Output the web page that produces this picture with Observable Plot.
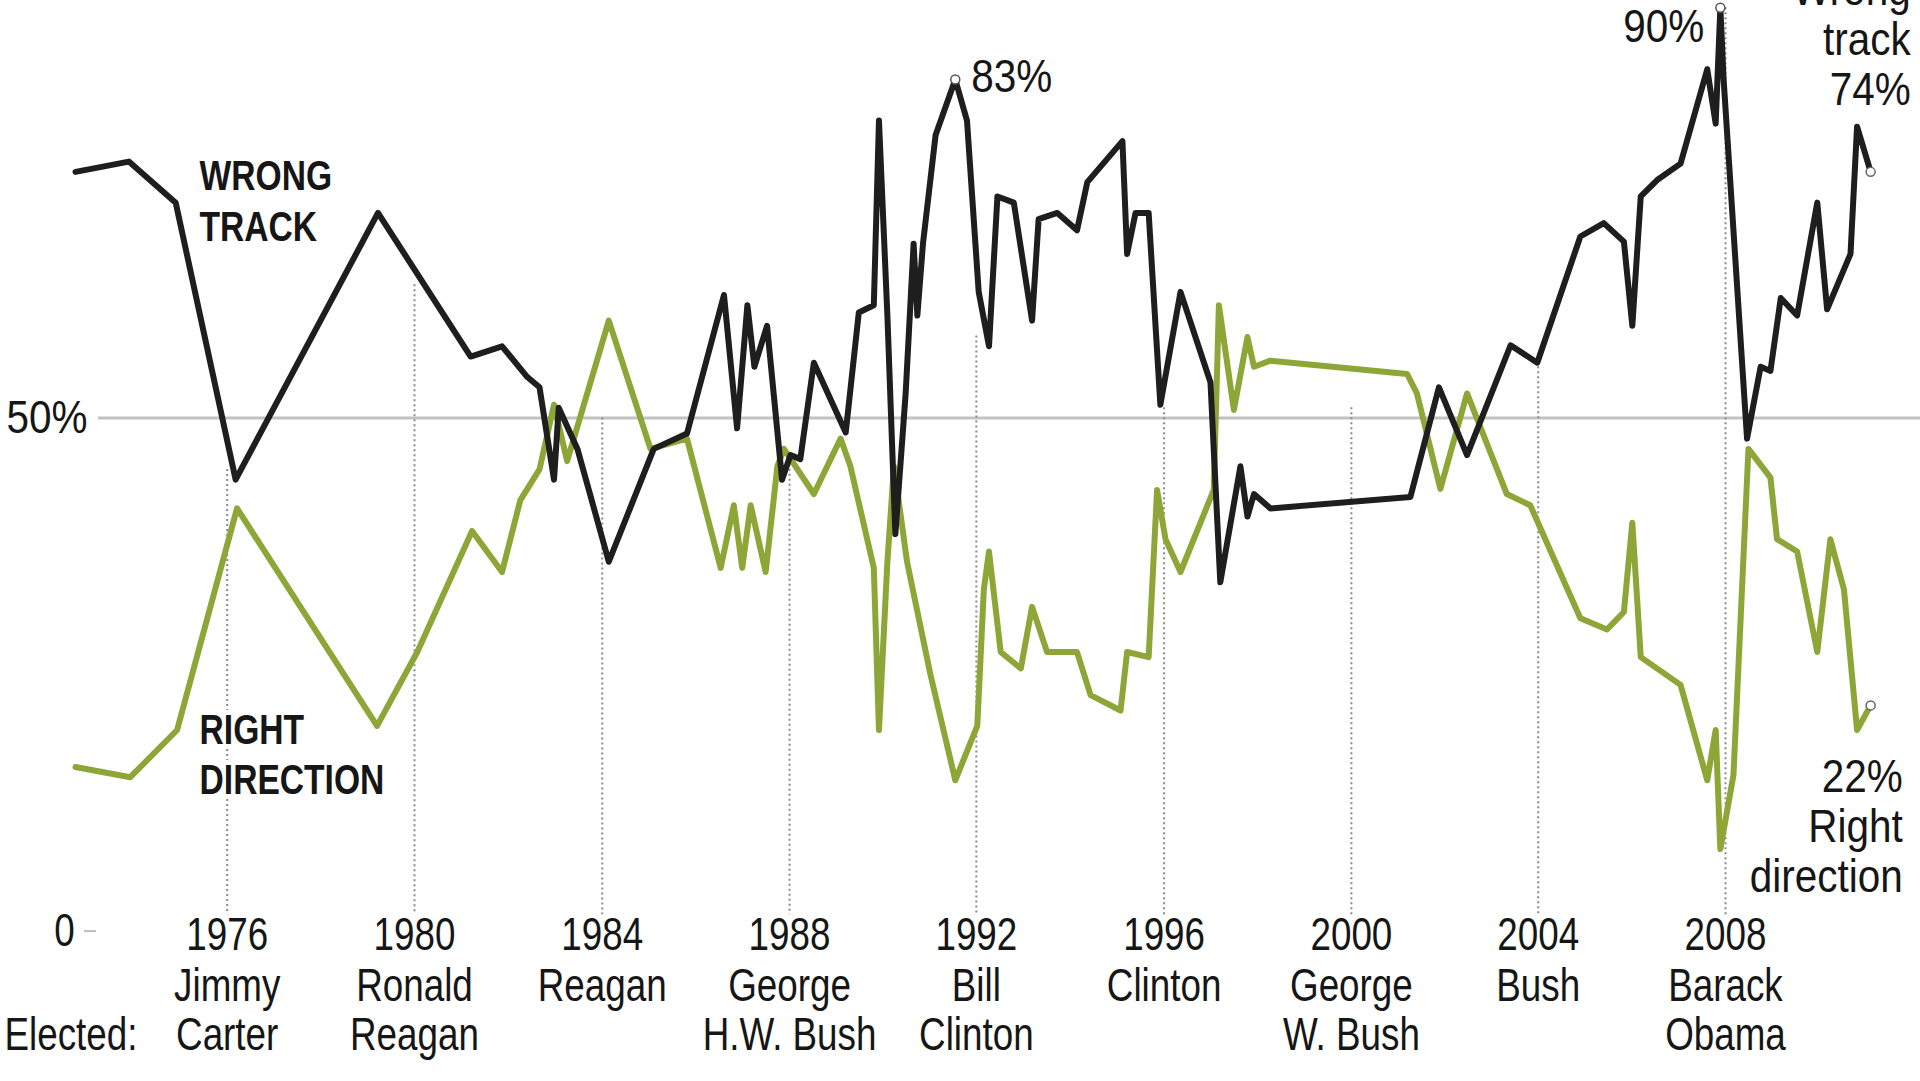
<!DOCTYPE html>
<html>
<head>
<meta charset="utf-8">
<script src="https://cdn.jsdelivr.net/npm/d3@7"></script>
<script src="https://cdn.jsdelivr.net/npm/@observablehq/plot@0.6"></script>
<style>
  html, body { margin: 0; padding: 0; background: #fff; overflow: hidden; }
  #chart svg { display: block; }
</style>
</head>
<body>
<div id="chart"></div>
<script>
// Poll: Is the country headed in the right direction or on the wrong track? (percent)
// Time is given in decimal years.
const wrongYears = [1973.60, 1974.74, 1975.74, 1977.02, 1980.06, 1982.04, 1982.71, 1983.25, 1983.51, 1983.82,
  1983.92, 1984.32, 1984.99, 1985.95, 1986.66, 1987.45, 1987.73, 1987.95, 1988.10, 1988.37,
  1988.69, 1988.87, 1989.08, 1989.37, 1990.05, 1990.33, 1990.65, 1990.76, 1990.94, 1991.11,
  1991.33, 1991.50, 1991.58, 1991.70, 1991.97, 1992.39, 1992.64, 1992.89, 1993.11, 1993.29,
  1993.64, 1994.03, 1994.17, 1994.57, 1994.99, 1995.21, 1995.96, 1996.06, 1996.24, 1996.52,
  1996.77, 1997.20, 1997.84, 1998.05, 1998.48, 1998.63, 1998.77, 1999.12, 2002.11, 2002.72,
  2003.32, 2004.25, 2004.82, 2005.74, 2006.24, 2006.67, 2006.85, 2007.03, 2007.38, 2007.88,
  2008.45, 2008.63, 2008.73, 2008.80, 2009.30, 2009.59, 2009.80, 2010.02, 2010.37, 2010.80,
  2011.01, 2011.51, 2011.65, 2011.94];
const wrongValues = [74, 75, 71, 44, 70, 56, 57, 54, 53, 44,
  51, 47, 36, 47, 48.5, 62, 49, 61, 55, 59,
  44, 46.4, 46, 55.4, 48.6, 60.3, 61, 79, 60, 38.7,
  52.4, 67, 60, 67, 77.6, 83, 79, 62.3, 57, 71.6,
  71, 59.5, 69.4, 70, 68.3, 73, 77, 66, 70, 70,
  51.3, 62.3, 53.5, 34, 45.3, 40.4, 42.6, 41.2, 42.3, 53,
  46.4, 57.1, 55.4, 67.7, 69, 67.2, 59, 71.6, 73.2, 74.8,
  84, 78.7, 90, 83, 48, 55, 54.6, 61.7, 60, 71,
  60.6, 66, 78.4, 74];

const rightYears = [1973.60, 1974.77, 1975.77, 1977.05, 1980.04, 1980.90, 1982.07, 1982.71, 1983.10, 1983.51,
  1983.82, 1984.10, 1984.99, 1985.88, 1986.66, 1987.38, 1987.66, 1987.84, 1988.02, 1988.34,
  1988.59, 1988.73, 1989.37, 1989.94, 1990.15, 1990.65, 1990.76, 1990.94, 1991.08, 1991.36,
  1991.86, 1992.39, 1992.86, 1993.00, 1993.11, 1993.36, 1993.79, 1994.03, 1994.35, 1994.99,
  1995.28, 1995.92, 1996.06, 1996.52, 1996.70, 1996.88, 1997.20, 1997.91, 1998.02, 1998.34,
  1998.63, 1998.77, 1999.12, 2002.04, 2002.25, 2002.75, 2003.32, 2004.17, 2004.67, 2005.74,
  2006.31, 2006.67, 2006.85, 2007.03, 2007.88, 2008.45, 2008.63, 2008.73, 2009.01, 2009.33,
  2009.80, 2009.94, 2010.37, 2010.80, 2011.08, 2011.37, 2011.65, 2011.94];
const rightValues = [16, 15, 19.6, 41.2, 20, 27.2, 39, 35, 42, 45,
  51.3, 45.8, 59.5, 47, 48, 35.4, 41.5, 35.4, 41.5, 35,
  45.3, 47, 42.6, 48, 45.3, 35.4, 19.6, 36, 45.3, 36,
  25, 14.7, 20, 33.3, 37, 27.2, 25.6, 31.6, 27.2, 27.2,
  23, 21.5, 27.2, 26.7, 43, 38.2, 35, 43, 61, 50.8,
  57.9, 55, 55.6, 54.3, 52.4, 43.1, 52.4, 42.6, 41.5, 30.5,
  29.4, 31.1, 39.8, 26.7, 24, 14.7, 19.6, 8, 15.2, 47,
  44.2, 38.2, 37, 27.2, 38.2, 33.3, 19.6, 22];

// Presidential elections
const electionYears = [1976.84, 1980.84, 1984.85, 1988.85, 1992.84, 1996.85, 2000.85, 2004.84, 2008.84];
const electionLabels = ["1976", "1980", "1984", "1988", "1992", "1996", "2000", "2004", "2008"];
const electedFirst = ["Jimmy", "Ronald", "Reagan", "George", "Bill", "Clinton", "George", "Bush", "Barack"];
const electedSecond = ["Carter", "Reagan", "", "H.W. Bush", "Clinton", "", "W. Bush", "", "Obama"];
const electionLineTop = [45, 63, 50, 46, 58, 51, 51, 55, 90];

// Highlighted readings
const highlightYears = [1992.39, 2008.73];
const highlightValues = [83, 90];
const highlightLabels = ["83%", "90%"];

// End-of-series annotation lines
const wrongEndLines = ["Wrong", "track", "74%"];
const rightEndLines = ["22%", "Right", "direction"];

const wrong = wrongYears.map((x, i) => ({x, v: wrongValues[i]}));
const right = rightYears.map((x, i) => ({x, v: rightValues[i]}));
const elections = electionYears.map((x, i) => ({
  x, year: electionLabels[i], first: electedFirst[i], second: electedSecond[i], top: electionLineTop[i]
}));
const lastWrong = wrong[wrong.length - 1];
const lastRight = right[right.length - 1];
const peaks = highlightYears.map((x, i) => ({x, v: highlightValues[i], label: highlightLabels[i]}));

const FONT = "'Liberation Sans', Arial, Helvetica, sans-serif";
const INK = "#161616";
const GREEN = "#8ea638";
const BLACKLINE = "#1e1e1e";

const endMarks = [
  ...wrongEndLines.map((t, i) => Plot.text([lastWrong], {x: "x", y: "v", text: () => t,
    textAnchor: "end", dx: 40, dy: -182 + 50 * i, fontSize: 46, fill: INK, className: "anno"})),
  ...rightEndLines.map((t, i) => Plot.text([lastRight], {x: "x", y: "v", text: () => t,
    textAnchor: "end", dx: 32, dy: 72 + 50 * i, fontSize: 46, fill: INK, className: "anno"}))
];

const chart = Plot.plot({
  width: 1920,
  height: 1081,
  marginLeft: 0,
  marginRight: 0,
  marginTop: 0,
  marginBottom: 150,
  style: {background: "#fff", fontFamily: FONT, color: INK, overflow: "visible"},
  x: {type: "linear", domain: [1976.84, 2008.84], range: [226.7, 1725], axis: null},
  y: {domain: [0, 100], range: [930.6, -95.4], axis: null},
  marks: [
    // 50% reference line and zero tick
    Plot.ruleY([50], {stroke: "#c2c2c2", strokeWidth: 3, insetLeft: 98}),
    Plot.ruleY([0], {stroke: "#bdbdbd", strokeWidth: 2, insetLeft: 84, insetRight: 1824}),
    // election dotted guides
    Plot.ruleX(elections, {x: "x", y1: "top", y2: 1.6, stroke: "#8a8a8a", strokeWidth: 2, strokeDasharray: "2,3"}),
    // series
    Plot.line(right, {x: "x", y: "v", stroke: GREEN, strokeWidth: 6}),
    Plot.line(wrong, {x: "x", y: "v", stroke: BLACKLINE, strokeWidth: 6}),
    // highlight dots
    Plot.dot(peaks, {x: "x", y: "v", r: 4.5, fill: "#fff", stroke: "#555", strokeWidth: 1.5}),
    Plot.dot([lastWrong, lastRight], {x: "x", y: "v", r: 4.5, fill: "#fff", stroke: "#666", strokeWidth: 1.5}),
    // y labels
    Plot.text([50], {y: d => d, text: d => d + "%", frameAnchor: "left", dx: 6, textAnchor: "start",
      fontSize: 46, fill: INK, className: "anno"}),
    Plot.text([0], {y: d => d, text: d => String(d), frameAnchor: "left", dx: 64, textAnchor: "middle",
      fontSize: 46, fill: INK}),
    // x labels
    Plot.text(elections, {x: "x", text: "year", frameAnchor: "bottom", dy: 18, fontSize: 46, fill: INK}),
    Plot.text(elections, {x: "x", text: "first", frameAnchor: "bottom", dy: 69, fontSize: 46, fill: INK}),
    Plot.text(elections, {x: "x", text: "second", frameAnchor: "bottom", dy: 118, fontSize: 46, fill: INK}),
    Plot.text(["Elected:"], {text: d => d, frameAnchor: "bottom-left", dx: 4, dy: 118, textAnchor: "start",
      fontSize: 46, fill: INK}),
    // series labels
    Plot.text(["WRONG", "TRACK"], {x: 1976.25, y: [73.5, 68.6], text: d => d, textAnchor: "start",
      fontSize: 42, fontWeight: "bold", fill: INK, stroke: "#fff", strokeWidth: 8}),
    Plot.text(["RIGHT", "DIRECTION"], {x: 1976.25, y: [19.5, 14.7], text: d => d, textAnchor: "start",
      fontSize: 42, fontWeight: "bold", fill: INK, stroke: "#fff", strokeWidth: 10}),
    // peak annotations
    Plot.text([peaks[0]], {x: "x", y: "v", text: "label", textAnchor: "start", dx: 16, dy: -2,
      fontSize: 46, fill: INK, className: "anno"}),
    Plot.text([peaks[1]], {x: "x", y: "v", text: "label", textAnchor: "end", dx: -16, dy: 20,
      fontSize: 46, fill: INK, className: "anno"}),
    ...endMarks
  ]
});

// Condensed lettering: squeeze each label horizontally around its own anchor
chart.querySelectorAll("text").forEach(t => {
  const sx = t.closest(".anno") ? 0.88 : 0.8;
  const x = +t.getAttribute("x") || 0;
  const y = +t.getAttribute("y") || 0;
  const tr = t.getAttribute("transform") || "";
  t.setAttribute("transform", `${tr} translate(${x},${y}) scale(${sx},1) translate(${-x},${-y})`);
});

document.getElementById("chart").appendChild(chart);
</script>
</body>
</html>
